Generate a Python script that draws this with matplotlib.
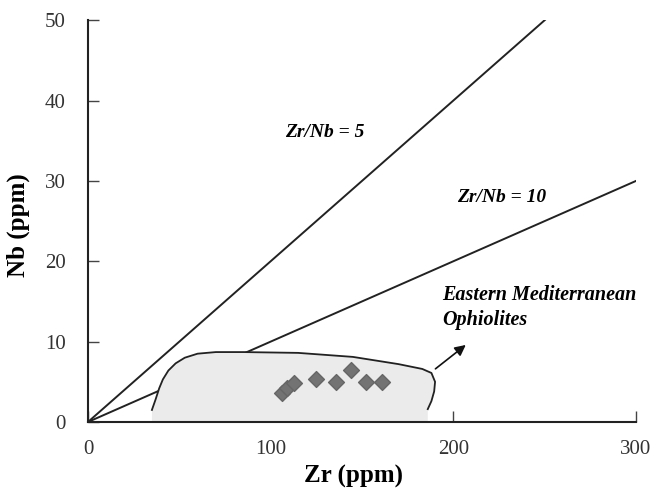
import matplotlib
matplotlib.use("Agg")
import matplotlib.pyplot as plt
import numpy as np

# reference ratio lines (Zr/Nb)
ratios = [5, 10]
ratio_labels = ["Zr/Nb = 5", "Zr/Nb = 10"]
ratio_label_pos = [(108, 36), (202, 27.9)]

# outline of the ophiolite field
field_zr = [35, 37, 39, 41, 44, 48, 53, 60, 70, 85, 115, 145, 170, 183, 188, 190, 189.5, 188, 186]
field_nb = [1.5, 2.8, 4.2, 5.3, 6.4, 7.3, 8.0, 8.5, 8.7, 8.7, 8.6, 8.1, 7.2, 6.6, 6.1, 5.0, 3.8, 2.6, 1.6]

# samples
zr = [106, 109, 113, 125, 136, 144, 152, 161]
nb = [3.6, 4.2, 4.9, 5.3, 5.0, 6.5, 5.0, 5.0]

plt.rcParams['font.family'] = ['Liberation Serif', 'DejaVu Serif']

fig = plt.figure(figsize=(6.7, 4.9), dpi=100)
ax = fig.add_axes([0.1313, 0.1388, 0.818, 0.820])

x = np.array([0, 300])
for r in ratios:
    ax.plot(x, x / r, color='#222222', lw=1.4, zorder=1)

# filled field, closed along the axis so it hides the ratio line inside
poly_x = field_zr + [field_zr[-1], field_zr[0]]
poly_y = field_nb + [0, 0]
ax.fill(poly_x, poly_y, color='#ebebeb', lw=0, zorder=2)
ax.plot(field_zr, field_nb, color='#222222', lw=1.3, zorder=3)

ax.scatter(zr, nb, marker='D', s=65, color='#737373', edgecolors='#666666', zorder=4)

for lab, (px, py) in zip(ratio_labels, ratio_label_pos):
    ax.text(px, py, lab, fontsize=14, fontweight='bold', fontstyle='italic',
            ha='left', va='center')

ax.text(194, 15.8, "Eastern Mediterranean", fontsize=14.5, fontweight='bold',
        fontstyle='italic', ha='left', va='center')
ax.text(194, 12.7, "Ophiolites", fontsize=14.5, fontweight='bold',
        fontstyle='italic', ha='left', va='center')
ax.annotate("", xy=(208, 9.8), xytext=(189, 6.4),
            arrowprops=dict(arrowstyle='-|>', color='#111111', lw=1.2,
                            mutation_scale=16), zorder=5)

ax.set_xlim(0, 300)
ax.set_ylim(0, 50)
ax.set_xticks([0, 100, 200, 300])
ax.set_yticks([0, 10, 20, 30, 40, 50])
for s in ['top', 'right']:
    ax.spines[s].set_visible(False)
for s in ['left', 'bottom']:
    ax.spines[s].set_linewidth(1.5)
    ax.spines[s].set_color('#222222')
ax.tick_params(direction='in', length=8, width=1, labelsize=15,
               color='#444444', labelcolor='#333333')
ax.tick_params(axis='x', pad=13)
ax.tick_params(axis='y', pad=16)

ax.set_xlabel("Zr (ppm)", fontsize=18, fontweight='bold')
ax.set_ylabel("Nb (ppm)", fontsize=18, fontweight='bold')
ax.xaxis.set_label_coords(0.485, -0.108)
ax.yaxis.set_label_coords(-0.105, 0.49)

fig.savefig("out.png", dpi=100)
